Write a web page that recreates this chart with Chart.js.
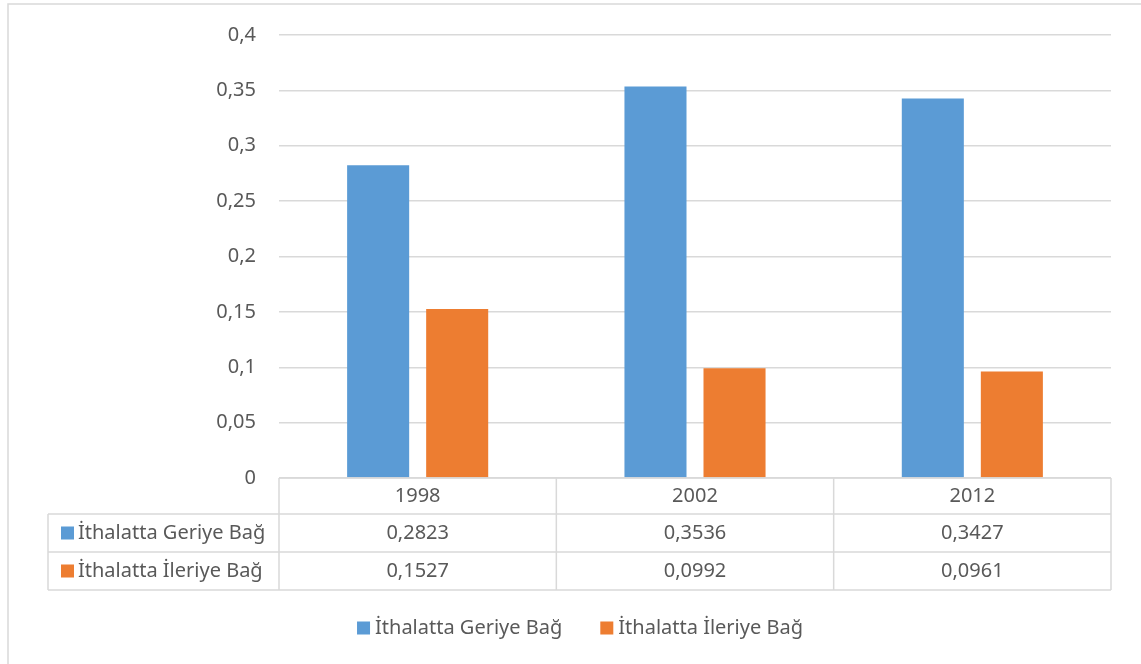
<!DOCTYPE html>
<html>
<head>
<meta charset="utf-8">
<script src="https://cdn.jsdelivr.net/npm/chart.js@4"></script>
<style>
  html, body { margin: 0; padding: 0; background: #fff; }
  #wrap { width: 1141px; height: 664px; position: relative; }
</style>
</head>
<body>
<div id="wrap"><canvas id="myChart"></canvas></div>
<script>
const years = ['1998', '2002', '2012'];
const geriye = [0.2823, 0.3536, 0.3427];
const ileriye = [0.1527, 0.0992, 0.0961];
const seriesNames = ['İthalatta Geriye Bağ', 'İthalatta İleriye Bağ'];
const yTickLabels = ['0', '0,05', '0,1', '0,15', '0,2', '0,25', '0,3', '0,35', '0,4'];

const FONT = '"Noto Sans", sans-serif';
const TEXT = '#595959';
const LINE = '#d9d9d9';

const fmt = v => v.toFixed(4).replace('.', ',');

// table under the axis + legend + outer frame
const tablePlugin = {
    id: 'dataTable',
    beforeDraw(chart) {
        const c = chart.ctx;
        c.save();
        c.strokeStyle = LINE;
        c.lineWidth = 1.5;
        c.beginPath();
        c.moveTo(8, chart.height);
        c.lineTo(8, 4);
        c.lineTo(chart.width, 4);
        c.stroke();
        c.restore();
    },
    afterDraw(chart) {
        const c = chart.ctx;
        const xs = chart.scales.x;
        const area = chart.chartArea;
        const n = years.length;
        const colW = xs.width / n;
        const tableLeft = 48;
        const rows = [area.bottom, area.bottom + 36, area.bottom + 74, area.bottom + 112];

        c.save();
        c.strokeStyle = LINE;
        c.lineWidth = 1.5;
        c.beginPath();
        // horizontals
        c.moveTo(area.left, rows[0]); c.lineTo(area.right, rows[0]);
        for (let r = 1; r < rows.length; r++) {
            c.moveTo(tableLeft, rows[r]); c.lineTo(area.right, rows[r]);
        }
        // verticals
        c.moveTo(tableLeft, rows[1]); c.lineTo(tableLeft, rows[3]);
        for (let i = 0; i <= n; i++) {
            const x = area.left + i * colW;
            c.moveTo(x, rows[0]); c.lineTo(x, rows[3]);
        }
        c.stroke();

        c.font = '20px ' + FONT;
        c.fillStyle = TEXT;
        c.textAlign = 'center';
        c.textBaseline = 'middle';
        const tableRows = [years, geriye.map(fmt), ileriye.map(fmt)];
        tableRows.forEach((vals, r) => {
            const cy = (rows[r] + rows[r + 1]) / 2;
            vals.forEach((v, i) => {
                c.fillText(v, xs.getPixelForValue(i), cy);
            });
        });

        // row headers
        c.textAlign = 'left';
        chart.data.datasets.forEach((ds, r) => {
            const cy = (rows[r + 1] + rows[r + 2]) / 2;
            c.fillStyle = ds.backgroundColor;
            c.fillRect(61, cy - 6.5, 13, 13);
            c.fillStyle = TEXT;
            c.fillText(ds.label, 78, cy);
        });

        // legend
        const ly = 628;
        const gap = 38;
        const widths = chart.data.datasets.map(ds => 13 + 5 + c.measureText(ds.label).width);
        const total = widths.reduce((a, b) => a + b, 0) + gap;
        let lx = 580 - total / 2;
        chart.data.datasets.forEach((ds, i) => {
            c.fillStyle = ds.backgroundColor;
            c.fillRect(lx, ly - 6.5, 13, 13);
            c.fillStyle = TEXT;
            c.fillText(ds.label, lx + 18, ly);
            lx += widths[i] + gap;
        });
        c.restore();
    }
};

new Chart(document.getElementById('myChart'), {
    type: 'bar',
    data: {
        labels: years,
        datasets: [{
            label: seriesNames[0],
            data: geriye,
            backgroundColor: '#5B9BD5',
            barPercentage: 0.785,
            categoryPercentage: 0.57
        }, {
            label: seriesNames[1],
            data: ileriye,
            backgroundColor: '#ED7D31',
            barPercentage: 0.785,
            categoryPercentage: 0.57
        }]
    },
    options: {
        responsive: true,
        maintainAspectRatio: false,
        animation: false,
        layout: {
            padding: { top: 33, right: 30, left: 0, bottom: 0 }
        },
        plugins: {
            legend: { display: false },
            tooltip: { enabled: false }
        },
        scales: {
            x: {
                ticks: { display: false },
                grid: { display: false },
                border: { display: false },
                afterFit(axis) { axis.height = 186; }
            },
            y: {
                min: 0,
                max: 0.4,
                ticks: {
                    stepSize: 0.05,
                    padding: 23,
                    color: TEXT,
                    font: { family: FONT, size: 20 },
                    callback: (v, i) => yTickLabels[i]
                },
                grid: { color: LINE, lineWidth: 1.5, drawTicks: false },
                border: { display: false },
                afterFit(axis) { axis.width = 279; }
            }
        }
    },
    plugins: [tablePlugin]
});
</script>
</body>
</html>
